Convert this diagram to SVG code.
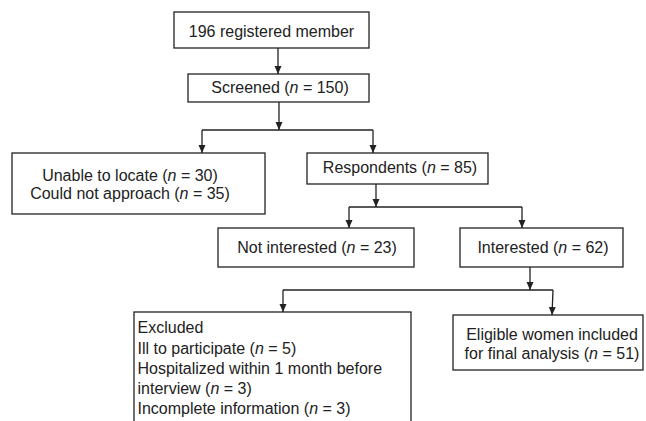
<svg xmlns="http://www.w3.org/2000/svg" width="646" height="421" viewBox="0 0 646 421">
<style>
.box{fill:#fff;stroke:#222;stroke-width:1.3}
.t{font-family:"Liberation Sans",Arial,sans-serif;font-size:16px;fill:#222}
.c{text-anchor:middle}
.ln{fill:none;stroke:#222;stroke-width:1.3}
</style>
<defs>
<marker id="ah" markerUnits="userSpaceOnUse" markerWidth="9" markerHeight="8" refX="8" refY="3.5" orient="auto">
<path d="M0,0 L8,3.5 L0,7 z" fill="#222"/>
</marker>
</defs>
<rect width="646" height="421" fill="#fff"/>
<g id="connectors">
<path class="ln" d="M278,48 V74" marker-end="url(#ah)"/>
<path class="ln" d="M279,102 V130" marker-end="url(#ah)"/>
<path class="ln" d="M202,130 H373"/>
<path class="ln" d="M202,130 V153" marker-end="url(#ah)"/>
<path class="ln" d="M373,130 V153" marker-end="url(#ah)"/>
<path class="ln" d="M376,184 V207" marker-end="url(#ah)"/>
<path class="ln" d="M349,207 H522"/>
<path class="ln" d="M349,207 V228" marker-end="url(#ah)"/>
<path class="ln" d="M522,207 V228" marker-end="url(#ah)"/>
<path class="ln" d="M530,267 V290" marker-end="url(#ah)"/>
<path class="ln" d="M283,290 H553"/>
<path class="ln" d="M283,290 V312" marker-end="url(#ah)"/>
<path class="ln" d="M553,290 L552,315" marker-end="url(#ah)"/>
</g>
<g id="registered">
<rect class="box" x="174" y="12" width="195" height="36"/>
<text class="t c" x="271.5" y="36.5">196 registered member</text>
</g>
<g id="screened">
<rect class="box" x="188" y="74" width="181" height="28"/>
<text class="t c" x="280" y="93">Screened (<tspan font-style="italic">n</tspan> = 150)</text>
</g>
<g id="unable">
<rect class="box" x="12" y="153" width="253" height="61"/>
<text class="t c" x="130" y="181">Unable to locate (<tspan font-style="italic">n</tspan> = 30)</text>
<text class="t c" x="130" y="199">Could not approach (<tspan font-style="italic">n</tspan> = 35)</text>
</g>
<g id="respondents">
<rect class="box" x="307" y="153" width="181" height="31"/>
<text class="t c" x="400" y="173">Respondents (<tspan font-style="italic">n</tspan> = 85)</text>
</g>
<g id="notinterested">
<rect class="box" x="218" y="228" width="196" height="39"/>
<text class="t c" x="317" y="253">Not interested (<tspan font-style="italic">n</tspan> = 23)</text>
</g>
<g id="interested">
<rect class="box" x="460" y="228" width="163" height="39"/>
<text class="t c" x="543" y="253">Interested (<tspan font-style="italic">n</tspan> = 62)</text>
</g>
<g id="excluded">
<rect class="box" x="134" y="312" width="277" height="130"/>
<text class="t" x="137.5" y="333">Excluded</text>
<text class="t" x="137.5" y="354">Ill to participate (<tspan font-style="italic">n</tspan> = 5)</text>
<text class="t" x="137.5" y="374">Hospitalized within 1 month before</text>
<text class="t" x="137.5" y="394">interview (<tspan font-style="italic">n</tspan> = 3)</text>
<text class="t" x="137.5" y="414">Incomplete information (<tspan font-style="italic">n</tspan> = 3)</text>
</g>
<g id="eligible">
<rect class="box" x="453" y="315" width="190" height="55"/>
<text class="t c" x="552" y="340">Eligible women included</text>
<text class="t c" x="552" y="359">for final analysis (<tspan font-style="italic">n</tspan> = 51)</text>
</g>
</svg>
